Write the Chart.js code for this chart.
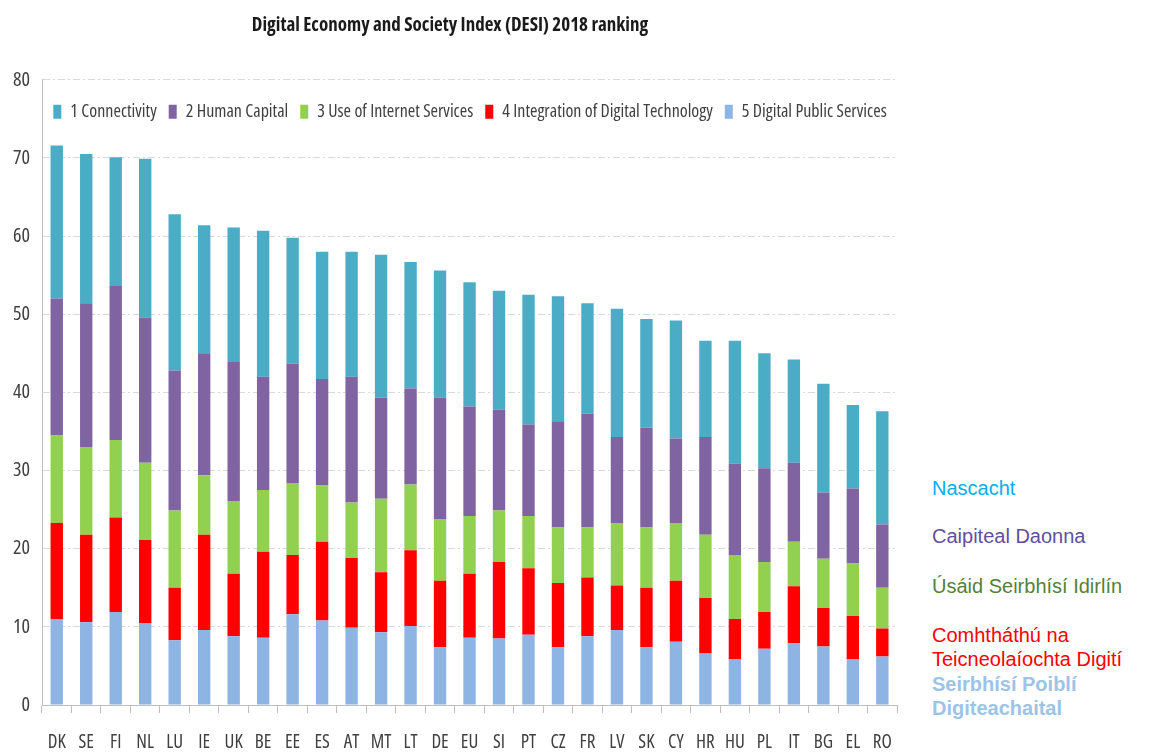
<!DOCTYPE html>
<html>
<head>
<meta charset="utf-8">
<script src="https://cdn.jsdelivr.net/npm/chart.js@4/dist/chart.umd.min.js"></script>
<style>
  body { margin: 0; background: #fff; width: 1149px; height: 755px; position: relative; overflow: hidden; }
  #wrap { position: absolute; left: 0; top: 0; width: 910px; height: 755px; }
  .lbl { position: absolute; left: 932px; font-family: "Liberation Sans", Arial, sans-serif; font-size: 20px; line-height: 24px; white-space: nowrap; }
</style>
</head>
<body>
<div id="wrap"><canvas id="desiChart"></canvas></div>
<div class="lbl" style="top:476px;color:#00b0f0">Nascacht</div>
<div class="lbl" style="top:524px;color:#5f4f9f">Caipiteal Daonna</div>
<div class="lbl" style="top:574px;color:#548235">Úsáid Seirbhísí Idirlín</div>
<div class="lbl" style="top:623px;color:#ff0000">Comhtháthú na<br>Teicneolaíochta Digití</div>
<div class="lbl" style="top:672px;color:#9dc3e6;font-weight:bold">Seirbhísí Poiblí<br>Digiteachaital</div>
<script>
const countries = ['DK','SE','FI','NL','LU','IE','UK','BE','EE','ES','AT','MT','LT','DE','EU','SI','PT','CZ','FR','LV','SK','CY','HR','HU','PL','IT','BG','EL','RO'];

const connectivity = [19.6,19.1,16.5,20.3,20.0,16.4,17.2,18.7,16.1,16.3,16.0,18.3,16.2,16.3,15.9,15.2,16.6,16.0,14.1,16.4,13.9,15.1,12.3,15.7,14.7,13.2,13.9,10.7,14.5];
const humanCapital = [17.5,18.4,19.7,18.6,17.9,15.6,17.8,14.5,15.3,13.6,16.1,12.9,12.3,15.5,14.0,12.9,11.7,13.6,14.6,11.0,12.8,10.8,12.5,11.7,12.0,10.1,8.5,9.6,8.1];
const internetUse = [11.2,11.2,9.9,9.9,9.9,7.6,9.3,7.9,9.2,7.2,7.1,9.4,8.4,7.9,7.4,6.6,6.7,7.1,6.4,8.0,7.7,7.4,8.1,8.2,6.4,5.7,6.3,6.7,5.2];
const integration = [12.3,11.2,12.1,10.6,6.7,12.2,8.0,11.0,7.6,10.1,8.9,7.7,9.7,8.5,8.2,9.8,8.5,8.2,7.5,5.7,7.6,7.8,7.1,5.1,4.7,7.3,4.9,5.5,3.6];
const publicServices = [11.0,10.6,11.9,10.5,8.3,9.6,8.8,8.6,11.6,10.8,9.9,9.3,10.1,7.4,8.6,8.5,9.0,7.4,8.8,9.6,7.4,8.1,6.6,5.9,7.2,7.9,7.5,5.9,6.2];

const yTicks = [0, 10, 20, 30, 40, 50, 60, 70, 80];

// condensed face of Open Sans, close to the squeezed Calibri of the original
const fam = '"Open Sans", sans-serif';
const plain = 'normal condensed';

// bottom segment first so the stack builds upward
const series = [
  { label: '5 Digital Public Services', data: publicServices, color: '#8eb4e3' },
  { label: '4 Integration of Digital Technology', data: integration, color: '#ff0000' },
  { label: '3 Use of Internet Services', data: internetUse, color: '#92d050' },
  { label: '2 Human Capital', data: humanCapital, color: '#8064a2' },
  { label: '1 Connectivity', data: connectivity, color: '#4bacc6' }
];

// the legend sits inside the plot, just under the 80 gridline
const legendInside = {
  id: 'legendInside',
  afterLayout(chart) {
    const lg = chart.legend;
    const h = lg.height;
    lg.top = chart.chartArea.top + 11;
    lg.bottom = lg.top + h;
    lg.left += 20;
    lg.right += 20;
  }
};

new Chart(document.getElementById('desiChart'), {
  type: 'bar',
  data: {
    labels: countries,
    datasets: series.map(s => ({
      label: s.label,
      data: s.data,
      backgroundColor: s.color,
      borderWidth: 0,
      categoryPercentage: 1,
      barPercentage: 0.42
    }))
  },
  plugins: [legendInside],
  options: {
    responsive: true,
    maintainAspectRatio: false,
    animation: false,
    layout: { padding: { left: 0, right: 10, top: 0, bottom: 0 } },
    plugins: {
      title: {
        display: true,
        text: 'Digital Economy and Society Index (DESI) 2018 ranking',
        color: '#1a1a1a',
        font: { family: fam, size: 19, weight: 'bold condensed' },
        padding: { top: 14, bottom: 3 }
      },
      legend: {
        position: 'top',
        reverse: true,
        labels: {
          color: '#404040',
          font: { family: fam, size: 18, weight: plain },
          boxWidth: 8,
          boxHeight: 14,
          padding: 12
        }
      },
      tooltip: { enabled: false }
    },
    scales: {
      x: {
        stacked: true,
        afterFit: scale => { scale.height = 50; },
        grid: { offset: true, drawOnChartArea: false, tickLength: 8, color: '#bfbfbf' },
        border: { color: '#bfbfbf' },
        ticks: { color: '#404040', font: { family: fam, size: 19, weight: plain }, padding: 18, maxRotation: 0, autoSkip: false }
      },
      y: {
        stacked: true,
        min: 0,
        max: 80,
        afterFit: scale => { scale.width = 42; },
        afterBuildTicks: axis => { axis.ticks = yTicks.map(v => ({ value: v })); },
        grid: { color: '#d9d9d9', drawTicks: false },
        border: { color: '#bfbfbf', dash: [7, 3, 2, 3] },
        ticks: { color: '#404040', font: { family: fam, size: 20, weight: plain }, padding: 12 }
      }
    }
  }
});
</script>
</body>
</html>
